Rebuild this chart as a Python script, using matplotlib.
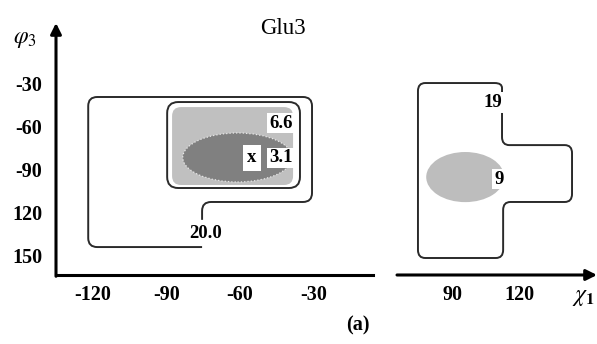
import numpy as np
import matplotlib as mpl
import matplotlib.pyplot as plt
from matplotlib.path import Path
from matplotlib.patches import PathPatch, Ellipse

mpl.rcParams.update({
    "font.family": "serif",
    "font.serif": ["Liberation Serif", "DejaVu Serif"],
    "mathtext.fontset": "stix",
})

# chi1 / phi3 values (degrees)
left_xticks = [-120, -90, -60, -30]
left_xlabels = ["-120", "-90", "-60", "-30"]
right_xticks = [90, 120]
right_xlabels = ["90", "120"]
yticks = [-30, -60, -90, -120, -150]
ylabels = ["-30", "-60", "-90", "120", "150"]

# left map, 20.0 kcal/mol contour (open at its label)
c20_x = [-75.4, -75.4, -30.7, -30.7, -121.7, -121.7, -75.4]
c20_y = [-125.0, -112.6, -112.6, -39.7, -39.7, -143.9, -143.9]
# left map, 6.6 contour (outline) and region inside it
c66_x = [-89.6, -35.6, -35.6, -89.6]
c66_y = [-43.2, -43.2, -102.9, -102.9]
r66_x = [-87.6, -38.4, -38.4, -87.6]
r66_y = [-46.7, -46.7, -100.8, -100.8]
# left map, 3.1 region: centre, width, height
r31 = (-61.0, -81.7, 44.5, 34.0)
min_left = (-55.1, -82.0)

# right map, 19 contour and 9 region
c19_x = [112.0, 112.0, 143.4, 143.4, 112.5, 112.5, 74.3, 74.3, 112.0, 112.0]
c19_y = [-50.8, -73.1, -73.1, -112.6, -112.6, -151.5, -151.5, -30.0, -30.0, -37.0]
r9 = (95.5, -95.3, 35.0, 34.8)

labels_left = [("20.0", -73.8, -134.2), ("6.6", -43.3, -57.8), ("3.1", -43.3, -82.0)]
labels_right = [("19", 107.9, -43.2), ("9", 110.6, -96.7)]

SX, SY = 2.46, 1.44  # px per degree, used only to round corners evenly
LIGHT = "#c0c0c0"
DARK = "#808080"
EDGE = "#2a2a2a"


def rounded(xs, ys, r, closed=False):
    pts = np.column_stack([np.asarray(xs) * SX, np.asarray(ys) * SY])
    n = len(pts)
    verts, codes = [], []

    def corner(a, p, b):
        da, db = a - p, b - p
        la, lb = np.hypot(*da), np.hypot(*db)
        p1 = p + da / la * min(r, la / 2)
        p2 = p + db / lb * min(r, lb / 2)
        verts.extend([p1, p, p2])
        codes.extend([Path.LINETO, Path.CURVE3, Path.CURVE3])

    if closed:
        start = (pts[-1] + pts[0]) / 2
        verts.append(start)
        codes.append(Path.MOVETO)
        for i in range(n):
            corner(pts[i - 1], pts[i], pts[(i + 1) % n])
        verts.append(start)
        codes.append(Path.LINETO)
    else:
        verts.append(pts[0])
        codes.append(Path.MOVETO)
        for i in range(1, n - 1):
            corner(pts[i - 1], pts[i], pts[i + 1])
        verts.append(pts[-1])
        codes.append(Path.LINETO)
    v = np.array(verts)
    v[:, 0] /= SX
    v[:, 1] /= SY
    return Path(v, codes)


def put_label(ax, txt, x, y):
    ax.text(x, y, txt, ha="center", va="center", fontsize=13.5, fontweight="bold", zorder=6,
            bbox=dict(boxstyle="square,pad=0.1", facecolor="white", edgecolor="none"))


fig = plt.figure(figsize=(5.97, 3.44), dpi=100)
ax1 = fig.add_axes([0.0938, 0.2006, 0.5310, 0.7326])
ax2 = fig.add_axes([0.665, 0.2006, 0.335, 0.7326])

for ax in (ax1, ax2):
    ax.set_ylim(-163.3, 11.7)
    for s in ax.spines.values():
        s.set_visible(False)
    ax.tick_params(length=0)
ax1.set_xlim(-134.8, -5.9)
ax2.set_xlim(64.9, 154.6)

TICKFONT = dict(fontweight="bold", fontsize=14.5)
ax1.set_xticks(left_xticks, left_xlabels, **TICKFONT)
ax1.set_yticks(yticks, ylabels, **TICKFONT)
ax2.set_xticks(right_xticks, right_xlabels, **TICKFONT)
ax2.set_yticks([])
ax1.tick_params(axis="x", pad=7)
ax2.tick_params(axis="x", pad=7)
ax1.tick_params(axis="y", pad=10)

# axes lines
ax1.spines["bottom"].set_visible(True)
ax1.spines["bottom"].set_linewidth(2.2)
ax1.annotate("", xy=(0, 1), xytext=(0, -0.005), xycoords="axes fraction",
             arrowprops=dict(arrowstyle="-|>", lw=2.2, color="black", mutation_scale=16, shrinkA=0, shrinkB=0))
ax2.annotate("", xy=(1, 0), xytext=(0, 0), xycoords="axes fraction",
             arrowprops=dict(arrowstyle="-|>", lw=2.2, color="black", mutation_scale=16, shrinkA=0, shrinkB=0))

# left map
ax1.add_patch(PathPatch(rounded(c20_x, c20_y, 9), facecolor="none", edgecolor=EDGE, lw=1.4, zorder=3))
ax1.add_patch(PathPatch(rounded(r66_x, r66_y, 9, closed=True), facecolor=LIGHT, edgecolor="none", zorder=2))
ax1.add_patch(PathPatch(rounded(c66_x, c66_y, 11, closed=True), facecolor="none", edgecolor=EDGE, lw=1.4, zorder=3))
ax1.add_patch(Ellipse(r31[:2], r31[2], r31[3], facecolor=DARK, edgecolor="#e8e8e8", lw=0.9, ls=":", zorder=4))
for txt, x, y in labels_left:
    put_label(ax1, txt, x, y)
ax1.text(*min_left, "x", ha="center", va="center", fontsize=13.5, fontweight="bold", zorder=6,
         bbox=dict(boxstyle="square,pad=0.22", facecolor="white", edgecolor="none"))

# right map
ax2.add_patch(Ellipse(r9[:2], r9[2], r9[3], facecolor="#bdbdbd", edgecolor="none", zorder=2))
ax2.add_patch(PathPatch(rounded(c19_x, c19_y, 8), facecolor="none", edgecolor=EDGE, lw=1.4, zorder=3))
for txt, x, y in labels_right:
    put_label(ax2, txt, x, y)

fig.text(283 / 597, 1 - 28 / 344, "Glu3", ha="center", va="center", fontsize=16.5)
fig.text(25 / 597, 1 - 40 / 344, r"$\varphi_3$", ha="center", va="center", fontsize=17)
fig.text(583 / 597, 1 - 298 / 344, r"$\chi_\mathbf{1}$", ha="center", va="center", fontsize=17)
fig.text(358 / 597, 1 - 325 / 344, "(a)", ha="center", va="center", fontsize=14.5, fontweight="bold")

fig.savefig("out.png", dpi=100)
